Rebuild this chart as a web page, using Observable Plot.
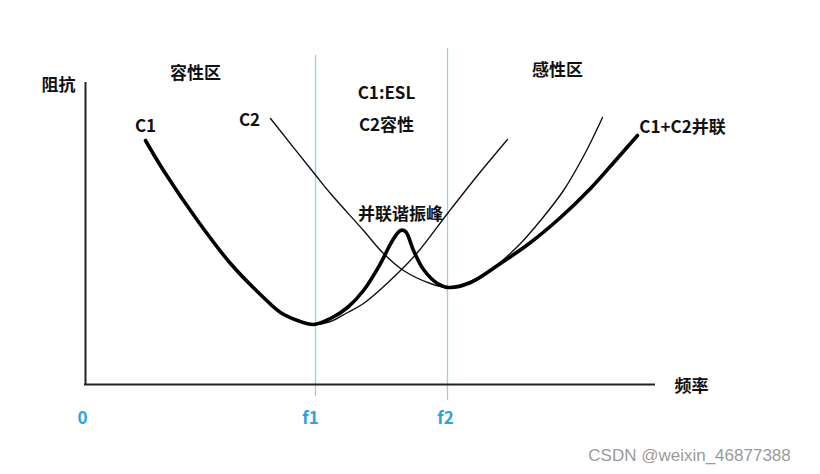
<!DOCTYPE html>
<html>
<head>
<meta charset="utf-8">
<script src="https://cdn.jsdelivr.net/npm/d3@7"></script>
<script src="https://cdn.jsdelivr.net/npm/@observablehq/plot@0.6"></script>
<style>
  html, body { margin: 0; padding: 0; background: #fff; }
  #chart { width: 820px; height: 474px; }
</style>
</head>
<body>
<div id="chart"></div>
<script>
// Frequency (x) and impedance (y) in arbitrary schematic units
const c1Freq = [60, 78, 112, 145, 178, 195, 212, 228, 245, 262, 278, 312, 332, 362, 392, 422];
const c1Imp  = [244, 214, 164, 121, 87, 72, 64, 60, 63, 72, 81, 111, 132, 171, 209, 245];

const c2Freq = [185, 228, 245, 278, 298, 318, 345, 363, 385, 412, 435, 455, 478, 500, 517];
const c2Imp  = [266, 212, 191, 154, 131, 114, 101, 97, 103, 120, 141, 164, 194, 232, 267];

const parFreq = [60, 78, 112, 145, 178, 195, 212, 228, 245, 262, 278, 295, 307, 315, 320, 328, 338, 352, 363, 385, 412, 445, 475, 505, 530, 552];
const parImp  = [244, 214, 164, 121, 87, 72, 64, 60, 66, 77, 94, 121, 144, 154, 153, 134, 115, 101, 97, 102, 119, 142, 167, 196, 224, 249];

const resonanceNames = ["f1", "f2"];
const resonanceFreq = [230, 362];

const tickLabels = ["0", "f1", "f2"];
const tickFreq = [-3, 225, 360];

const xAxisEnd = 570;
const yAxisTop = 302;

const labelTexts = ["阻抗", "容性区", "C1", "C2", "C1:ESL", "C2容性", "感性区", "C1+C2并联", "并联谐振峰", "频率"];
const labelFreq  = [-27, 110, 60, 164, 301, 301, 472, 597, 315, 606];
const labelImp   = [299, 311, 258, 264, 291, 259, 314, 257, 170, -2];

const toPts = (xs, ys) => xs.map((x, i) => ({x, y: ys[i]}));
const c1 = toPts(c1Freq, c1Imp);
const c2 = toPts(c2Freq, c2Imp);
const par = toPts(parFreq, parImp);
const labels = labelTexts.map((t, i) => ({t, x: labelFreq[i], y: labelImp[i]}));
const ticks = tickLabels.map((t, i) => ({t, x: tickFreq[i]}));
const res = resonanceNames.map((n, i) => ({n, x: resonanceFreq[i]}));

const font = "'Noto Sans CJK SC', 'Noto Sans', sans-serif";

const chart = Plot.plot({
  width: 820,
  height: 474,
  marginTop: 0, marginRight: 0, marginBottom: 0, marginLeft: 0,
  x: {domain: [-85, 735], range: [0, 820], axis: null},
  y: {domain: [384, -90], range: [0, 474], axis: null},
  style: {fontFamily: font, background: "#fff"},
  marks: [
    Plot.ruleX(res.slice(0, 1), {x: "x", y1: -12, y2: 329, stroke: "#8fd3ee", strokeWidth: 1.3}),
    Plot.ruleX(res.slice(1), {x: "x", y1: -16, y2: 336, stroke: "#8fd3ee", strokeWidth: 1.3}),
    Plot.ruleX([0], {y1: -1, y2: yAxisTop, stroke: "#222", strokeWidth: 2}),
    Plot.ruleY([0], {x1: -1, x2: xAxisEnd, stroke: "#222", strokeWidth: 2}),
    Plot.line(c1, {x: "x", y: "y", curve: "catmull-rom", stroke: "#111", strokeWidth: 1.4}),
    Plot.line(c2, {x: "x", y: "y", curve: "catmull-rom", stroke: "#111", strokeWidth: 1.4}),
    Plot.line(par, {x: "x", y: "y", curve: "catmull-rom", stroke: "#000", strokeWidth: 3.6, strokeLinecap: "round"}),
    Plot.text(labels, {x: "x", y: "y", text: "t", fontSize: 17, fontWeight: "bold", fill: "#111", textAnchor: "middle"}),
    Plot.text(ticks, {x: "x", y: -34, text: "t", fontSize: 17, fontWeight: "bold", fill: "#2ba3dc", textAnchor: "middle"}),
    Plot.text(["CSDN @weixin_46877388"], {x: 604, y: -71, text: d => d, fontSize: 17, fontFamily: "'Liberation Sans', Arial, sans-serif", fill: "#9a9a9a", textAnchor: "middle"})
  ]
});
document.getElementById("chart").appendChild(chart);
</script>
</body>
</html>
